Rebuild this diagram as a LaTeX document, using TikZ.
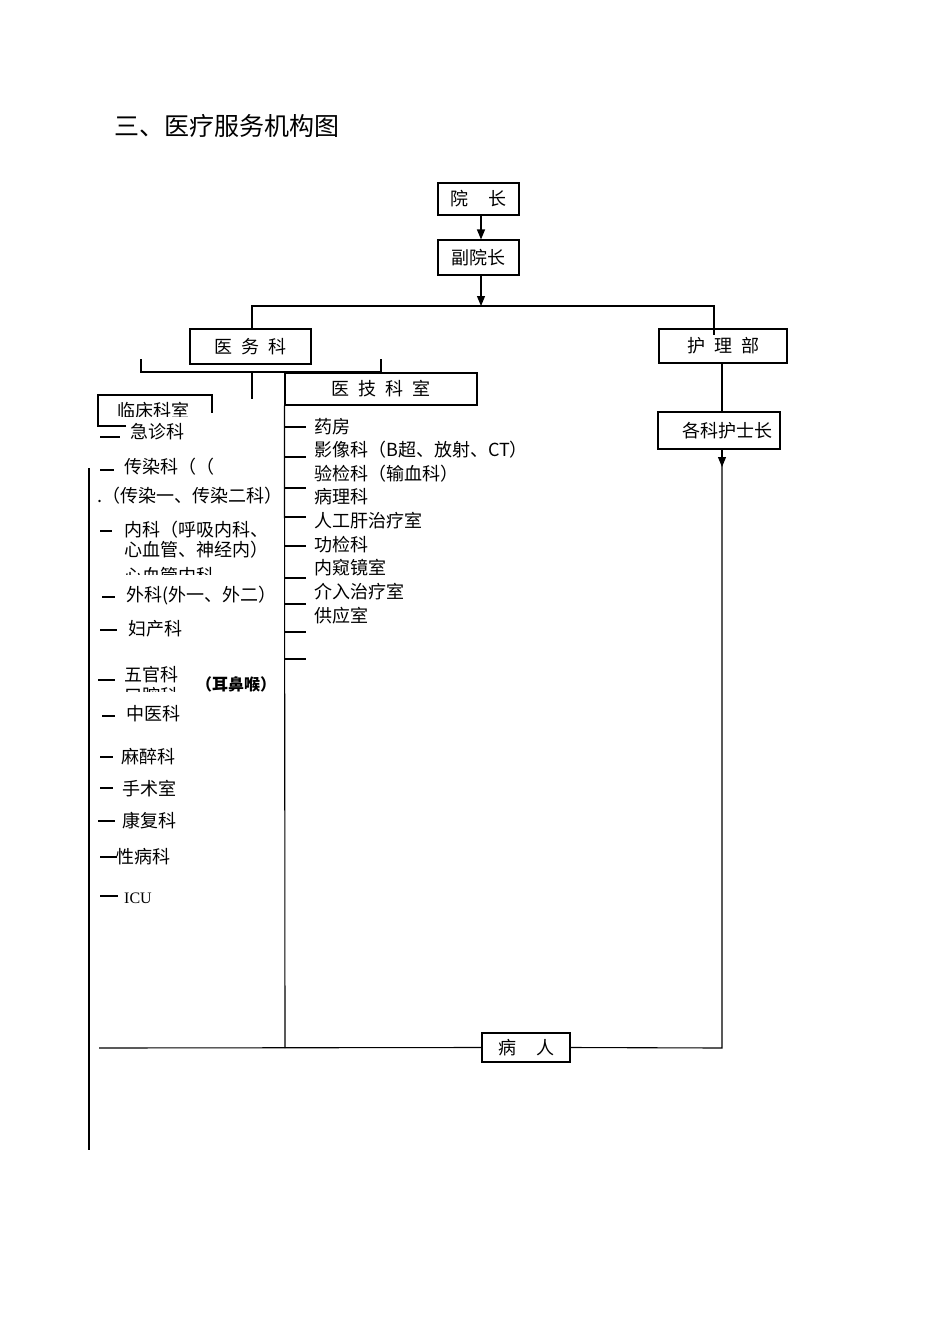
\documentclass[tikz,border=0pt]{standalone}
\usepackage{fontspec}
\setmainfont{Noto Sans CJK SC}
\newfontfamily\latser{Liberation Serif}
\usetikzlibrary{arrows.meta}
\begin{document}
\begin{tikzpicture}[x=1pt,y=-1pt,
  ln/.style={line width=1.1pt},
  box/.style={draw,line width=1.1pt,inner sep=0pt,font=\fontsize{18}{20}\selectfont},
  lbl/.style={anchor=west,inner sep=0pt,font=\fontsize{18}{20}\selectfont},
  arr/.style={line width=1.1pt,-{Triangle[length=10pt,width=8pt]}}]
\useasboundingbox (0,0) rectangle (950,1344);
\fill[white] (0,0) rectangle (950,1344);

% title
\node[anchor=west,inner sep=0pt,font=\fontsize{25}{27}\selectfont] (title) at (114,126) {三、医疗服务机构图};

% boxes
\node[box,minimum width=81pt,minimum height=32pt] (yz) at (478.5,199) {院\hspace{20pt}长};
\node[box,minimum width=81pt,minimum height=35pt] (fyz) at (478.5,257.5) {副院长};
\node[box,minimum width=121pt,minimum height=35pt] (ywk) at (250.5,346.5) {医\hspace{9pt}务\hspace{9pt}科};
\node[box,minimum width=128pt,minimum height=34pt] (hlb) at (723,346) {护\hspace{9pt}理\hspace{9pt}部};
\node[box,minimum width=192pt,minimum height=32pt] (yjks) at (381,389) {医\hspace{9pt}技\hspace{9pt}科\hspace{9pt}室};
\node[box,minimum width=122pt,minimum height=37pt] (gkhsz) at (719,430.5) {\hspace{16pt}各科护士长};
\node[box,minimum width=88pt,minimum height=29pt] (br) at (526,1047.5) {病\hspace{20pt}人};

% clinical department box (partly hidden)
\coordinate (lc1) at (98,426);
\coordinate (lc2) at (98,395);
\coordinate (lc3) at (212,395);
\coordinate (lc4) at (212,413);
\coordinate (lc5) at (126,426);
\draw[ln] (lc5) -- (lc1) -- (lc2) -- (lc3) -- (lc4);
\begin{scope}
\clip (100,397) rectangle (210,416);
\node[lbl] (lcks) at (117,411) {临床科室};
\end{scope}

% top connectors
\draw[arr] ([xshift=2.5pt]yz.south) -- ([xshift=2.5pt]fyz.north);
\coordinate (j1) at (481,306);
\draw[arr] ([xshift=2.5pt]fyz.south) -- (j1);
\coordinate (hl) at (252,306);
\coordinate (hr) at (714,306);
\coordinate (hrin) at (714,335);
\draw[ln] (hl |- ywk.north) -- (hl) -- (hr) -- (hrin);
\coordinate (hs1) at (722,363);
\coordinate (hs2) at (722,412);
\draw[ln] (hs1) -- (hs2);

% bracket under 医务科
\coordinate (t1) at (141,359);
\coordinate (t1b) at (141,372);
\coordinate (t2b) at (381,372);
\coordinate (t2) at (381,359);
\draw[ln] (t1) -- (t1b) -- (t2b) -- (t2);
\coordinate (b1) at (252,372);
\coordinate (b2) at (252,399);
\draw[ln] (b1) -- (b2);

% long verticals
\coordinate (lv1) at (89,468);
\coordinate (lv2) at (89,1150);
\draw[ln] (lv1) -- (lv2);
\coordinate (mv2) at (285,1048);
\draw[ln] (yjks.south west) -- (mv2);

% bottom line and right side
\coordinate (lb) at (99,1048);
\coordinate (rb) at (722,1048);
\coordinate (rs) at (722,449);
\coordinate (rt) at (722,467);
\draw[ln] (lb) -- (br.west);
\draw[ln] (br.east) -- (rb) -- (rs);
\draw[arr] (rs) -- (rt);

% left column dashes
\foreach \a/\b/\y in {100/120/437,100/114/470,100/112/531,102/115/597,100/117/630,98/115/680,102/115/716,100/113/757,100/113/788,98/115/821,100/117/857,100/118/896}
  \draw[ln] (\a,\y) -- (\b,\y);

% left column texts
\node[lbl] (jz) at (130,432) {急诊科};
\node[lbl] (cr) at (124,467) {传染科（（};
\node[lbl] (cr2) at (97,496) {.（传染一、传染二科）};
\node[lbl] (nk1) at (124,530) {内科（呼吸内科、};
\node[lbl] (nk2) at (124,550) {心血管、神经内）};
\node[lbl] (wk) at (126,596) {外科(外一、外二）};
\node[lbl] (fck) at (128,629) {妇产科};
\node[lbl] (wgk) at (124,675) {五官科};
\node[anchor=west,inner sep=0pt,font=\fontsize{16}{18}\selectfont\bfseries] (ebh) at (196,684) {（耳鼻喉）};
\node[lbl] (zyk) at (126,714) {中医科};
\node[lbl] (mzk) at (121,757) {麻醉科};
\node[lbl] (sss) at (122,789) {手术室};
\node[lbl] (kfk) at (122,821) {康复科};
\node[lbl] (xbk) at (116,857) {性病科};
\node[anchor=west,inner sep=0pt,font=\latser\fontsize{16}{18}\selectfont] (icu) at (124,898) {ICU};

% clipped fragments
\begin{scope}
\clip (120,565) rectangle (220,574);
\node[lbl] (fr2) at (124,576) {心血管内科};
\end{scope}
\begin{scope}
\clip (120,685) rectangle (190,691);
\node[lbl] (fr3) at (124,696) {口腔科};
\end{scope}

% middle column dashes
\foreach \y in {427,457,488,517,546,578,604,632,659}
  \draw[ln] (285,\y) -- (306,\y);

% middle column texts
\node[lbl] (yf) at (314,427) {药房};
\node[lbl] (yxk) at (314,450) {影像科（B超、放射、CT）};
\node[lbl] (yjk) at (314,474) {验检科（输血科）};
\node[lbl] (blk) at (314,497) {病理科};
\node[lbl] (rgg) at (314,521) {人工肝治疗室};
\node[lbl] (gjk) at (314,545) {功检科};
\node[lbl] (nkj) at (314,568) {内窥镜室};
\node[lbl] (jr) at (314,592) {介入治疗室};
\node[lbl] (gys) at (314,616) {供应室};
\end{tikzpicture}
\end{document}
